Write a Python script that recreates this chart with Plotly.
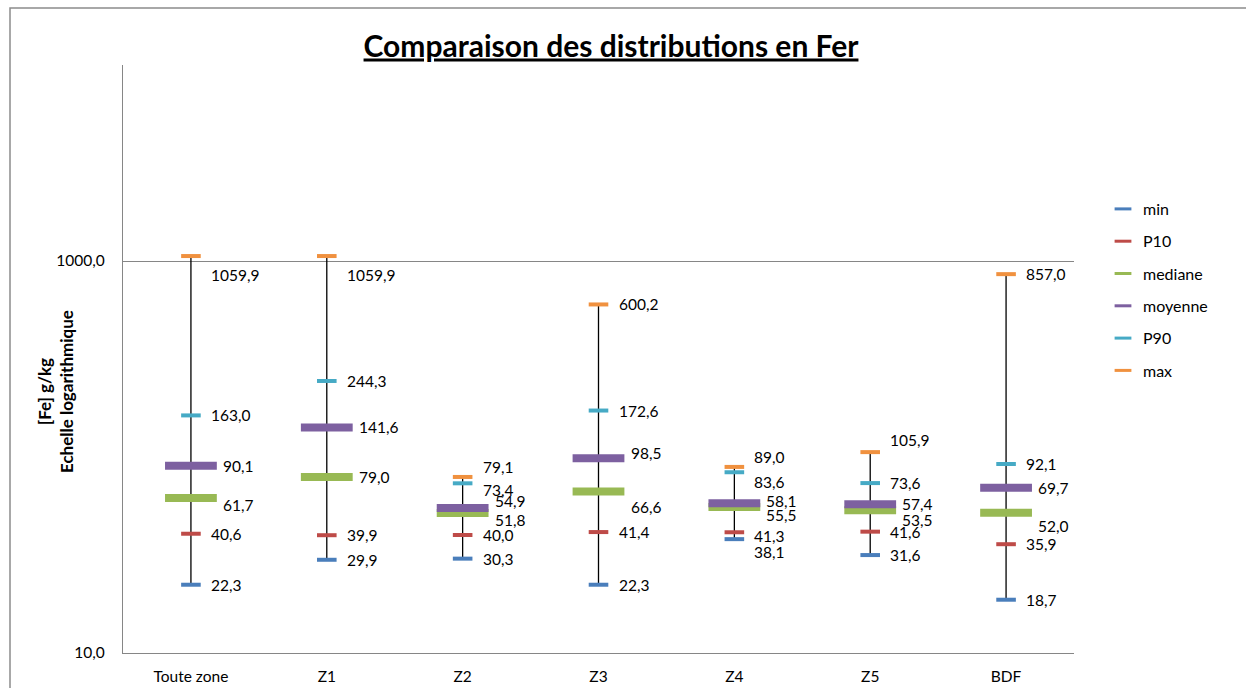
import math
import plotly.graph_objects as go

categories = ["Toute zone", "Z1", "Z2", "Z3", "Z4", "Z5", "BDF"]
v_min = [22.3, 29.9, 30.3, 22.3, 38.1, 31.6, 18.7]
v_p10 = [40.6, 39.9, 40.0, 41.4, 41.3, 41.6, 35.9]
v_mediane = [61.7, 79.0, 51.8, 66.6, 55.5, 53.5, 52.0]
v_moyenne = [90.1, 141.6, 54.9, 98.5, 58.1, 57.4, 69.7]
v_p90 = [163.0, 244.3, 73.4, 172.6, 83.6, 73.6, 92.1]
v_max = [1059.9, 1059.9, 79.1, 600.2, 89.0, 105.9, 857.0]

y_tick_vals = [10, 1000]
y_tick_text = ["10,0", "1000,0"]

series_names = ["min", "P10", "mediane", "moyenne", "P90", "max"]
series_values = [v_min, v_p10, v_mediane, v_moyenne, v_p90, v_max]
series_colors = ["#4A7EBB", "#BE4B48", "#98B954", "#7D60A0", "#46AAC5", "#F0913F"]
series_big = [False, False, True, True, False, False]

# label vertical nudges (pixels, downward) per category, order = series_names
label_dy = {
    "Toute zone": [0, 0, 7, 0, 0, 19],
    "Z1": [0, 0, 0, 0, 0, 19],
    "Z2": [0, 0, 7, -7, 7, -10],
    "Z3": [0, 0, 15, -5, 0, 0],
    "Z4": [13, 4, 8, -2, 10, -10],
    "Z5": [0, 0, 10, 0, 0, -12],
    "BDF": [0, 0, 13, 0, 0, 0],
}

FONT = "Lato, 'Open Sans', sans-serif"
W, H = 1246, 688
L, R, T, B = 123, 172, 65, 35

fig = go.Figure()

# high-low lines
lx, ly = [], []
for c, lo, hi in zip(categories, v_min, v_max):
    lx += [c, c, None]
    ly += [lo, hi, None]
fig.add_trace(go.Scatter(x=lx, y=ly, mode="lines", line=dict(color="#000000", width=1.3),
                         showlegend=False, hoverinfo="skip"))

for name, vals, col, big in zip(series_names, series_values, series_colors, series_big):
    fig.add_trace(go.Scatter(
        x=categories, y=vals, mode="markers", name=name, showlegend=False,
        marker=dict(symbol="line-ew", size=37 if big else 14,
                    line=dict(color=col, width=8 if big else 4)),
    ))

# legend entries
for i, (name, col) in enumerate(zip(series_names, series_colors)):
    fig.add_trace(go.Scatter(
        x=[None], y=[None], mode="markers", name=name, legendgroup=f"g{i}",
        marker=dict(symbol="line-ew", size=12, line=dict(color=col, width=3)),
    ))

annotations = []
for j, c in enumerate(categories):
    for k, (vals, big) in enumerate(zip(series_values, series_big)):
        v = vals[j]
        annotations.append(dict(
            x=c, y=math.log10(v), xref="x", yref="y",
            text=f"{v:.1f}".replace(".", ","), showarrow=False,
            xanchor="left", yanchor="middle",
            xshift=30 if big else 18, yshift=-label_dy[c][k],
            font=dict(family=FONT, size=15.5, color="#000000"),
        ))

annotations.append(dict(
    x=(55 - L) / (W - L - R), y=(H - B - 392) / (H - B - T), xref="paper", yref="paper",
    text="<b>[Fe] g/kg<br>Echelle logarithmique</b>", textangle=-90, showarrow=False,
    xanchor="center", yanchor="middle", font=dict(family=FONT, size=17, color="#000000"),
))

fig.update_layout(
    width=W, height=H,
    margin=dict(l=L, r=R, t=T, b=B, autoexpand=False),
    paper_bgcolor="white", plot_bgcolor="white",
    title=dict(text="<b>Comparaison des distributions en Fer</b>",
               x=(611) / W, xanchor="center", y=1 - 46 / H, yanchor="middle",
               font=dict(family=FONT, size=30, color="#000000", lineposition="under")),
    xaxis=dict(range=[-0.5, 6.5], showgrid=False, zeroline=False, automargin=False,
               showline=True, linecolor="#868686", linewidth=1.3, ticks="",
               tickfont=dict(family=FONT, size=15.5, color="#000000"),
               ticklabelstandoff=9, fixedrange=True),
    yaxis=dict(type="log", range=[1, 4], tickvals=y_tick_vals, ticktext=y_tick_text,
               automargin=False,
               showgrid=True, gridcolor="#868686", gridwidth=1.3, zeroline=False,
               showline=True, linecolor="#868686", linewidth=1.3, ticks="",
               tickfont=dict(family=FONT, size=15.5, color="#000000"),
               ticklabelstandoff=14, fixedrange=True),
    legend=dict(x=(1103 - L) / (W - L - R), xanchor="left",
                y=(H - B - 192) / (H - B - T), yanchor="top",
                font=dict(family=FONT, size=16, color="#000000"),
                tracegroupgap=8.5, bgcolor="rgba(0,0,0,0)"),
    annotations=annotations,
    shapes=[dict(type="rect", xref="paper", yref="paper",
                 x0=(10 - L) / (W - L - R), x1=(1300 - L) / (W - L - R),
                 y0=(H - B - 720) / (H - B - T), y1=(H - B - 8) / (H - B - T),
                 line=dict(color="#8C8C8C", width=1.5), layer="below")],
    showlegend=True,
)

fig.write_html("out.html")
